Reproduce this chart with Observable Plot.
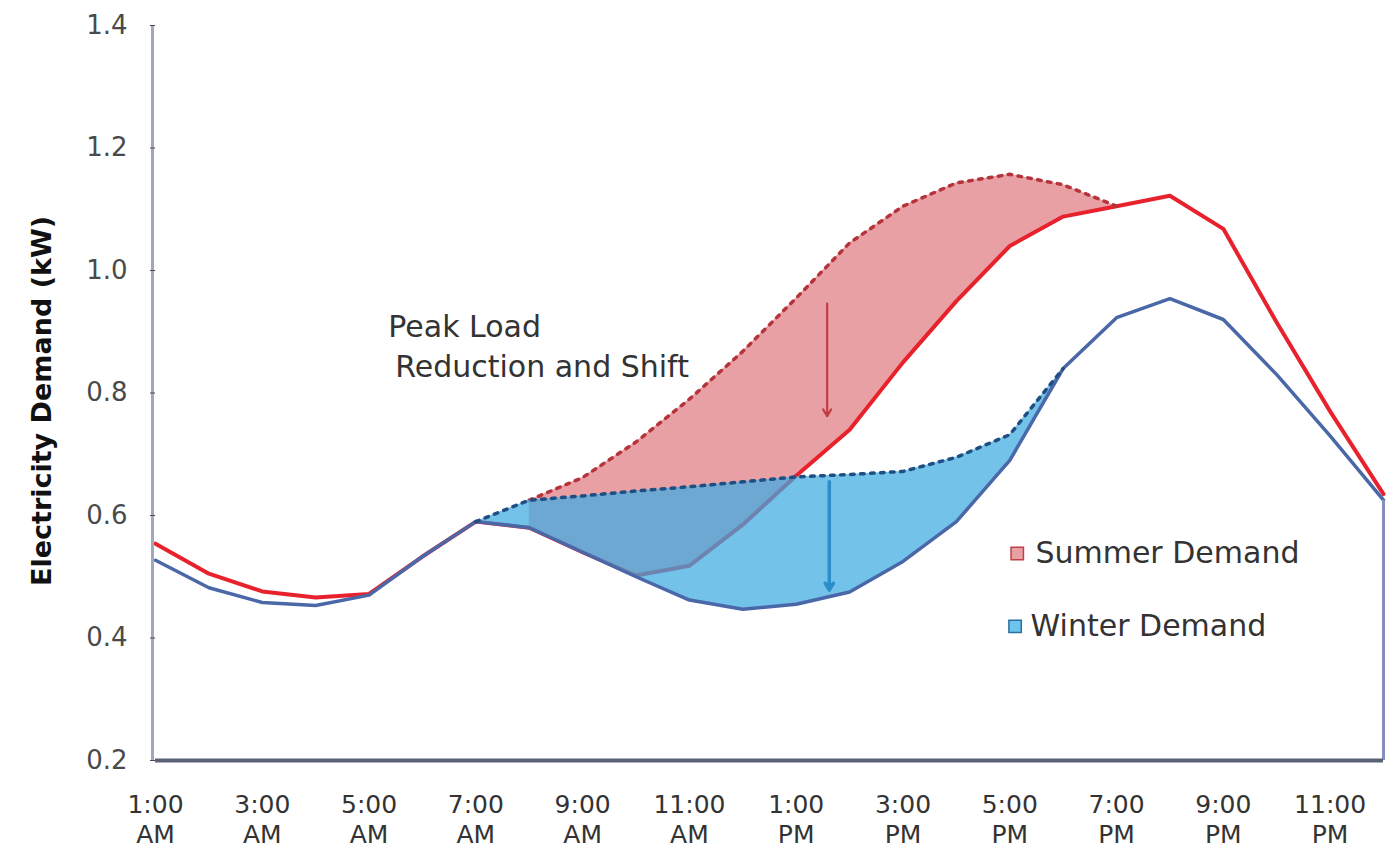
<!DOCTYPE html>
<html>
<head>
<meta charset="utf-8">
<script src="https://cdn.jsdelivr.net/npm/d3@7"></script>
<script src="https://cdn.jsdelivr.net/npm/@observablehq/plot@0.6"></script>
<style>
  html, body { margin: 0; padding: 0; background: #fff; }
  #chart svg { display: block; }
</style>
</head>
<body>
<div id="chart"></div>
<script>
// ---- data ----
const hours = [1, 2, 3, 4, 5, 6, 7, 8, 9, 10, 11, 12, 13, 14, 15, 16, 17, 18, 19, 20, 21, 22, 23, 24];
const summerDemand = [0.554, 0.505, 0.476, 0.466, 0.472, 0.533, 0.59, 0.58, 0.54, 0.502, 0.518, 0.585, 0.665, 0.74, 0.85, 0.95, 1.04, 1.088, 1.105, 1.122, 1.068, 0.915, 0.77, 0.635];
const winterDemand = [0.527, 0.482, 0.458, 0.453, 0.47, 0.533, 0.59, 0.58, 0.54, 0.5, 0.462, 0.447, 0.455, 0.475, 0.525, 0.59, 0.69, 0.84, 0.923, 0.954, 0.92, 0.83, 0.73, 0.625];
const summerOriginalHours = [8, 9, 10, 11, 12, 13, 14, 15, 16, 17, 18, 19];
const summerOriginal = [0.625, 0.662, 0.72, 0.79, 0.868, 0.955, 1.045, 1.105, 1.143, 1.157, 1.14, 1.105];
const winterOriginalHours = [7, 8, 9, 10, 11, 12, 13, 14, 15, 16, 17, 18];
const winterOriginal = [0.59, 0.625, 0.632, 0.64, 0.647, 0.655, 0.663, 0.667, 0.672, 0.695, 0.732, 0.84];
const xTickHours = [1, 3, 5, 7, 9, 11, 13, 15, 17, 19, 21, 23];
const xTickLabels = ["1:00\nAM", "3:00\nAM", "5:00\nAM", "7:00\nAM", "9:00\nAM", "11:00\nAM", "1:00\nPM", "3:00\nPM", "5:00\nPM", "7:00\nPM", "9:00\nPM", "11:00\nPM"];
const yTicks = [0.2, 0.4, 0.6, 0.8, 1.0, 1.2, 1.4];
const seriesNames = ["Summer Demand", "Winter Demand"];
const annotationLines = ["Peak Load", "Reduction and Shift"];
const yTitle = "Electricity Demand (kW)";

// ---- tables built from the arrays ----
const actual = hours.map((h, i) => ({hour: h, summer: summerDemand[i], winter: winterDemand[i]}));
const summerBand = summerOriginalHours.map((h, i) => ({hour: h, original: summerOriginal[i], actual: summerDemand[hours.indexOf(h)]}));
const winterBand = winterOriginalHours.map((h, i) => ({hour: h, original: winterOriginal[i], actual: winterDemand[hours.indexOf(h)]}));

// annotation placement (data coordinates)
const annotation = [
  {text: annotationLines[0], x: 5.36, y: 0.907},
  {text: annotationLines[1], x: 5.49, y: 0.842}
];
const arrows = [
  {x: 13.58, y1: 0.946, y2: 0.762, color: "#c23c46", w: 2.2},
  {x: 13.62, y1: 0.655, y2: 0.478, color: "#2b8ec8", w: 3.5}
];
const legend = [
  {name: seriesNames[0], sx: 17.14, tx: 17.48, y: 0.538, fill: "#e9a0a4", stroke: "#c0404a"},
  {name: seriesNames[1], sx: 17.10, tx: 17.39, y: 0.419, fill: "#6ec4ec", stroke: "#2a6fa0"}
];

const font = "'DejaVu Sans', sans-serif";

const chart = Plot.plot({
  width: 1393,
  height: 850,
  marginLeft: 155,
  marginRight: 10,
  marginTop: 25,
  marginBottom: 90,
  style: {fontFamily: font, background: "#fff", overflow: "visible"},
  x: {domain: [1, 24]},
  y: {domain: [0.2, 1.4]},
  marks: [
    Plot.areaY(summerBand, {x: "hour", y1: "actual", y2: "original", fill: "#e9a0a4"}),
    Plot.line(actual, {x: "hour", y: "summer", stroke: "#e8222c", strokeWidth: 4}),
    Plot.line(summerBand, {x: "hour", y: "original", stroke: "#b5333b", strokeWidth: 3.5, strokeDasharray: "3.5 6.5"}),
    Plot.areaY(winterBand, {x: "hour", y1: "actual", y2: "original", fill: "#3caae2", fillOpacity: 0.72}),
    Plot.line(actual, {x: "hour", y: "winter", stroke: "#4a68a8", strokeWidth: 3.5}),
    Plot.line(winterBand, {x: "hour", y: "original", stroke: "#1e4e82", strokeWidth: 3.5, strokeDasharray: "3.5 6.5"}),
    Plot.ruleX([24], {y1: 0.2, y2: winterDemand[winterDemand.length - 1], stroke: "#8790bd", strokeWidth: 3}),
    Plot.ruleX([1], {dx: -3, stroke: "#a0a8bb", strokeWidth: 3}),
    Plot.ruleY([0.2], {stroke: "#596276", strokeWidth: 4}),
    Plot.axisY({ticks: yTicks, tickFormat: d3.format(".1f"), tickSize: 5, tickPadding: 23, fontSize: 26, color: "#4a4a4a", label: null}),
    Plot.axisX({ticks: xTickHours, tickFormat: d => xTickLabels[xTickHours.indexOf(d)], tickSize: 0, tickPadding: 31, fontSize: 25, lineHeight: 1.2, color: "#333", label: null}),
    Plot.text([yTitle], {frameAnchor: "left", textAnchor: "middle", rotate: -90, dx: -113, dy: 8, fontSize: 27, fontWeight: "bold", fill: "#111"}),
    Plot.arrow(arrows, {x1: "x", x2: "x", y1: "y1", y2: "y2", stroke: "color", strokeWidth: "w", headLength: 12}),
    Plot.text(annotation, {x: "x", y: "y", text: "text", textAnchor: "start", fontSize: 30, fill: "#333"}),
    Plot.dot(legend, {x: "sx", y: "y", symbol: "square", r: 7, fill: "fill", stroke: "stroke", strokeWidth: 1.5}),
    Plot.text(legend, {x: "tx", y: "y", text: "name", textAnchor: "start", fontSize: 30, fill: "#333"})
  ]
});
document.getElementById("chart").appendChild(chart);
</script>
</body>
</html>
